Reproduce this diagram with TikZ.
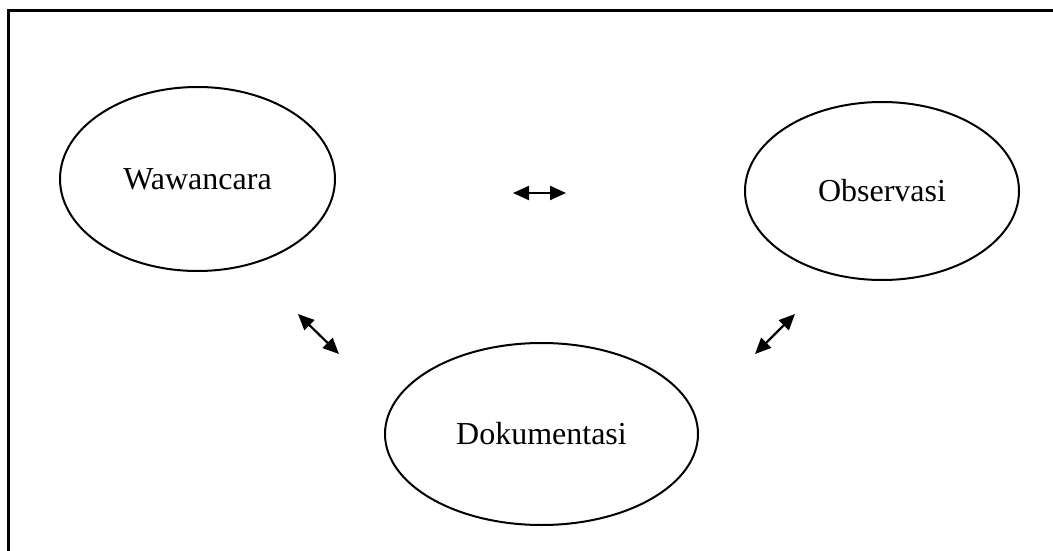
\documentclass[tikz,border=0pt]{standalone}
\usepackage{fontspec}
\setmainfont{Liberation Serif}
\usetikzlibrary{shapes.geometric,arrows.meta}

\begin{document}
\begin{tikzpicture}[x=1pt,y=-1pt,
    metode/.style={draw,ellipse,line width=2pt,inner sep=0pt,font=\fontsize{32}{38}\selectfont},
    hubung/.style={{Triangle[length=16pt,width=14pt]}-{Triangle[length=16pt,width=14pt]},line width=2.2pt}]
    \useasboundingbox(0,0)rectangle(1053,551);
    \draw[line width=3pt](8,551)--(8,11)--(1053,11);
    \node[metode,minimum width=275pt,minimum height=184pt](waw)at(197.5,179){Wawancara};
    \node[metode,minimum width=274pt,minimum height=178pt](obs)at(882,191){Observasi};
    \node[metode,minimum width=313pt,minimum height=182pt](dok)at(541.5,434){Dokumentasi};
    \coordinate(a1)at(513,193);
    \coordinate(a2)at(566,193);
    \coordinate(b1)at(298,314);
    \coordinate(b2)at(339,354);
    \coordinate(c1)at(755,354);
    \coordinate(c2)at(795,314);
    \draw[hubung](a1)--(a2);
    \draw[hubung](b1)--(b2);
    \draw[hubung](c1)--(c2);
\end{tikzpicture}
\end{document}
